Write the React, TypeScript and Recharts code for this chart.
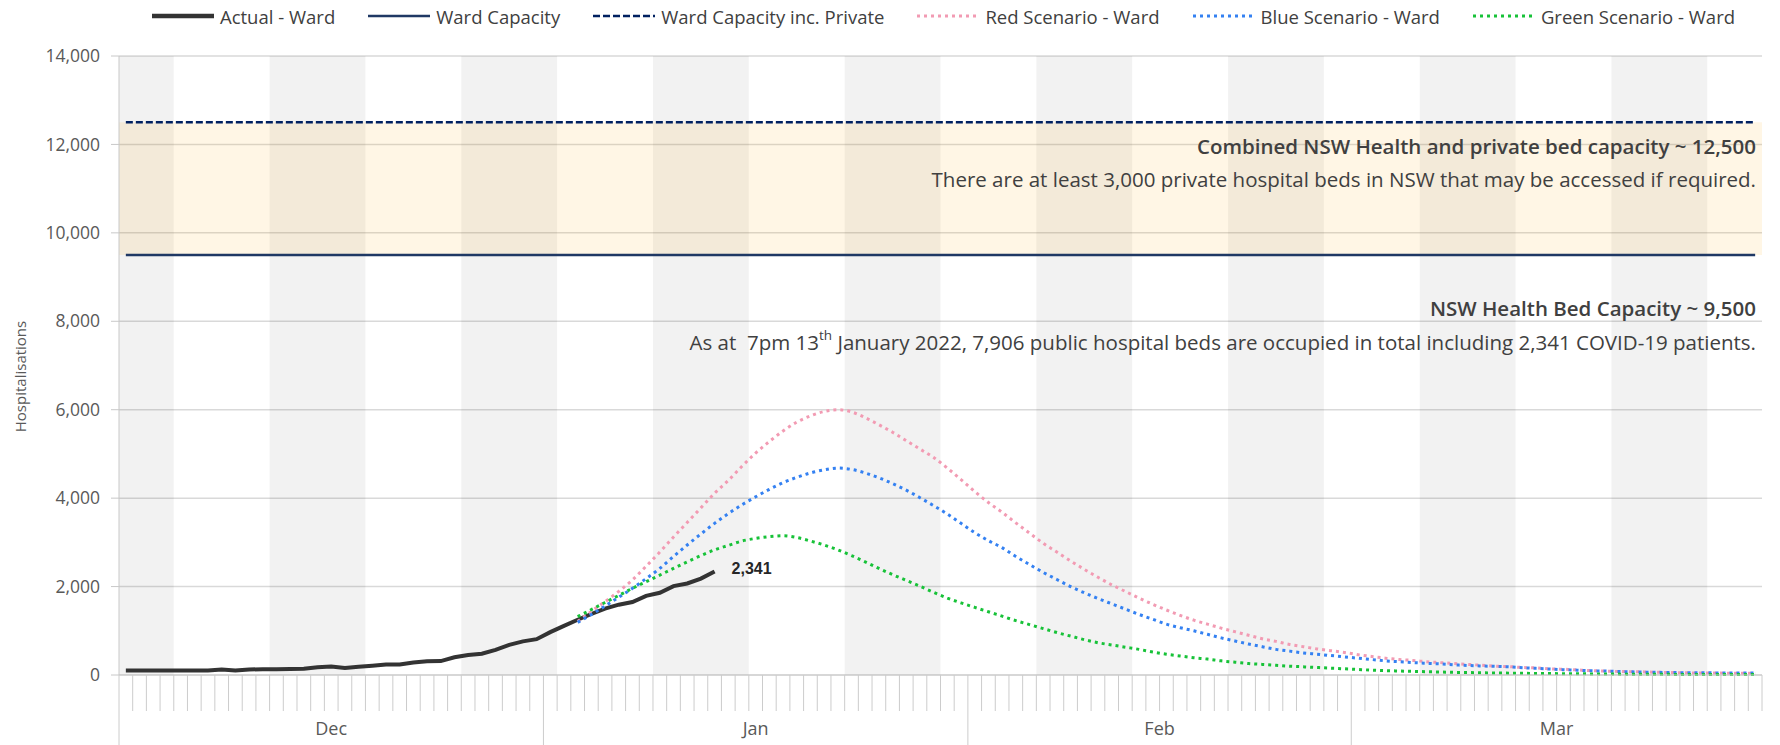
import React from "react";
import {
  ComposedChart,
  Line,
  XAxis,
  YAxis,
  CartesianGrid,
  ReferenceArea,
  Legend,
} from "recharts";

const FONT = "'Open Sans', 'Noto Sans', sans-serif";

const MONTHS = ["Dec", "Jan", "Feb", "Mar"];
const MONTH_LENGTHS = [31, 31, 28, 30];

// actual ward hospitalisations, 1 Dec 2021 - 13 Jan 2022 (one value per day)
const actualWard = [
  100, 100, 100, 100, 100, 100, 100, 125, 100, 125,
  130, 130, 135, 140, 175, 190, 160, 185, 210, 235,
  240, 285, 310, 315, 400, 450, 480, 570, 680, 760,
  810, 970, 1110, 1250, 1380, 1500, 1590, 1650, 1790, 1860,
  2010, 2070, 2180, 2341,
];

// modelled scenarios start on 2 Jan 2022 (day 33) and run to 30 Mar
const SCENARIO_START = 33;
const redScenario = [
  1210, 1440, 1660, 1890, 2150, 2460, 2780, 3120, 3450, 3780,
  4110, 4400, 4720, 5020, 5280, 5520, 5720, 5860, 5960, 6000,
  5950, 5820, 5660, 5490, 5300, 5110, 4920, 4680, 4420, 4150,
  3900, 3680, 3440, 3210, 2980, 2780, 2580, 2390, 2210, 2040,
  1890, 1740, 1600, 1470, 1350, 1240, 1150, 1060, 980, 900,
  820, 760, 690, 640, 590, 550, 510, 460, 420, 380,
  350, 330, 300, 280, 260, 240, 220, 200, 190, 170,
  160, 140, 130, 115, 100, 90, 80, 75, 70, 60,
  55, 50, 45, 45, 40, 40, 35,
];
const blueScenario = [
  1190, 1370, 1560, 1760, 1960, 2180, 2410, 2680, 2940, 3190,
  3430, 3650, 3850, 4030, 4200, 4350, 4470, 4570, 4640, 4680,
  4650, 4570, 4460, 4330, 4180, 4010, 3830, 3640, 3430, 3220,
  3040, 2880, 2680, 2500, 2320, 2160, 2000, 1860, 1730, 1610,
  1490, 1370, 1260, 1150, 1070, 1000, 920, 840, 770, 700,
  640, 580, 540, 500, 470, 440, 410, 380, 350, 320,
  300, 280, 265, 250, 230, 215, 205, 195, 185, 165,
  150, 135, 120, 110, 95, 90, 80, 72, 65, 60,
  55, 52, 50, 48, 45, 45, 45,
];
const greenScenario = [
  1320, 1480, 1640, 1800, 1960, 2110, 2260, 2410, 2560, 2700,
  2830, 2930, 3030, 3090, 3130, 3150, 3110, 3030, 2940, 2830,
  2700, 2560, 2410, 2270, 2140, 2010, 1870, 1740, 1630, 1530,
  1430, 1330, 1230, 1140, 1050, 960, 880, 800, 730, 680,
  630, 580, 520, 470, 430, 390, 360, 320, 290, 260,
  240, 220, 200, 185, 170, 155, 140, 125, 110, 100,
  90, 82, 75, 68, 60, 55, 50, 45, 42, 38,
  35, 32, 30, 28, 25, 22, 20, 18, 16, 15,
  14, 12, 12, 10, 10, 10, 10,
];

const WARD_CAPACITY = 9500;
const WARD_CAPACITY_PRIVATE = 12500;

// alternate weeks shaded grey: [first day, last day] as day index from 1 Dec
const greyWeeks = [
  [0, 3], [11, 17], [25, 31], [39, 45], [53, 59],
  [67, 73], [81, 87], [95, 101], [109, 115],
];

const Y_TICKS = [0, 2000, 4000, 6000, 8000, 10000, 12000, 14000];

const NOTE_PRIVATE_TITLE = "Combined NSW Health and private bed capacity ~ 12,500";
const NOTE_PRIVATE_TEXT =
  "There are at least 3,000 private hospital beds in NSW that may be accessed if required.";
const NOTE_PUBLIC_TITLE = "NSW Health Bed Capacity ~ 9,500";
const NOTE_PUBLIC_TEXT = [
  "As at  7pm 13",
  "th",
  " January 2022, 7,906 public hospital beds are occupied in total including 2,341 COVID-19 patients.",
];

const SERIES = [
  { key: "actual", name: "Actual - Ward", color: "#333333", width: 4, dash: undefined },
  { key: "wardCapacity", name: "Ward Capacity", color: "#1f3864", width: 2.5, dash: undefined },
  { key: "wardCapacityPrivate", name: "Ward Capacity inc. Private", color: "#002060", width: 2.5, dash: "7 3" },
  { key: "red", name: "Red Scenario - Ward", color: "#f29bb3", width: 3, dash: "3 4" },
  { key: "blue", name: "Blue Scenario - Ward", color: "#3481f2", width: 3, dash: "3 4" },
  { key: "green", name: "Green Scenario - Ward", color: "#17c238", width: 3, dash: "3 4" },
];

const totalDays = MONTH_LENGTHS.reduce((a, b) => a + b, 0);

const data = Array.from({ length: totalDays }, (_, day) => ({
  day,
  actual: day < actualWard.length ? actualWard[day] : null,
  wardCapacity: WARD_CAPACITY,
  wardCapacityPrivate: WARD_CAPACITY_PRIVATE,
  red: day >= SCENARIO_START ? redScenario[day - SCENARIO_START] : null,
  blue: day >= SCENARIO_START ? blueScenario[day - SCENARIO_START] : null,
  green: day >= SCENARIO_START ? greenScenario[day - SCENARIO_START] : null,
}));

// tick marks sit between days, month labels in the middle of each month
const dayEdges = Array.from({ length: totalDays + 1 }, (_, i) => i - 0.5);
const monthStarts = MONTH_LENGTHS.map((_, i) =>
  MONTH_LENGTHS.slice(0, i).reduce((a, b) => a + b, 0)
);
const monthEdges = monthStarts.map((s) => s - 0.5);
const monthMids = monthStarts.map((s, i) => s - 0.5 + MONTH_LENGTHS[i] / 2);

const DayTick = (props: any) => {
  const { x, y, payload } = props;
  const isMonth = monthEdges.includes(payload.value);
  return (
    <line
      x1={x}
      x2={x}
      y1={y}
      y2={y + (isMonth ? 75 : 36)}
      stroke="#cccccc"
      strokeWidth={1}
    />
  );
};

const YLabel = (props: any) => {
  const { x, y, height } = props.viewBox;
  const cx = x + 20;
  const cy = y + height / 2 + 11;
  return (
    <text
      x={cx}
      y={cy}
      transform={`rotate(-90 ${cx} ${cy})`}
      textAnchor="middle"
      dominantBaseline="central"
      fill="#595959"
      fontSize={15}
      fontFamily={FONT}
    >
      Hospitalisations
    </text>
  );
};

const CapacityNotes = (props: any) => {
  const { x, y, width, height } = props.viewBox;
  const right = x + width - 6;
  const bottom = y + height;
  const common = {
    x: right,
    textAnchor: "end" as const,
    dominantBaseline: "central" as const,
    fill: "#404040",
    fontSize: 20.5,
    fontFamily: FONT,
  };
  return (
    <g>
      <text {...common} y={y + 24} fontWeight={600}>
        {NOTE_PRIVATE_TITLE}
      </text>
      <text {...common} y={y + 57}>
        {NOTE_PRIVATE_TEXT}
      </text>
      <text {...common} y={bottom + 53} fontWeight={600}>
        {NOTE_PUBLIC_TITLE}
      </text>
      <text {...common} y={bottom + 87} style={{ whiteSpace: "pre" }}>
        {NOTE_PUBLIC_TEXT[0]}
        <tspan dy={-7} fontSize={13.5}>
          {NOTE_PUBLIC_TEXT[1]}
        </tspan>
        <tspan dy={7}>{NOTE_PUBLIC_TEXT[2]}</tspan>
      </text>
    </g>
  );
};

const ActualLabel = (props: any) => {
  const { x, y, index } = props;
  if (index !== actualWard.length - 1) return null;
  return (
    <text
      x={x + 17}
      y={y - 3}
      dominantBaseline="central"
      fill="#262626"
      fontSize={16}
      fontWeight={700}
      fontFamily="'Liberation Sans', Arial, sans-serif"
    >
      {actualWard[actualWard.length - 1].toLocaleString("en-US")}
    </text>
  );
};

const LegendContent = () => (
  <div
    style={{
      display: "flex",
      justifyContent: "center",
      alignItems: "center",
      height: 32,
      paddingLeft: 107,
      gap: 33,
      fontFamily: FONT,
      fontSize: 18.5,
      color: "#404040",
    }}
  >
    {SERIES.map((s) => (
      <div key={s.key} style={{ display: "flex", alignItems: "center", gap: 6 }}>
        <svg width={62} height={10}>
          <line
            x1={0}
            x2={62}
            y1={5}
            y2={5}
            stroke={s.color}
            strokeWidth={s.key === "actual" ? 4.5 : s.width}
            strokeDasharray={s.dash}
          />
        </svg>
        <span>{s.name}</span>
      </div>
    ))}
  </div>
);

export default function App() {
  return (
    <div style={{ position: "absolute", left: 0, top: 0, width: 1780, height: 745, background: "#fff" }}>
      <ComposedChart
        width={1780}
        height={745}
        data={data}
        margin={{ top: 24, right: 18, bottom: 0, left: 0 }}
      >
        <Legend
          verticalAlign="top"
          content={LegendContent}
          wrapperStyle={{ top: 0, left: 0, width: 1780 }}
        />
        <CartesianGrid xAxisId="day" vertical={false} stroke="#d9d9d9" strokeWidth={1.5} />
        <XAxis
          xAxisId="day"
          dataKey="day"
          type="number"
          domain={[-0.5, totalDays - 0.5]}
          ticks={dayEdges}
          interval={0}
          tick={DayTick}
          tickLine={false}
          tickSize={0}
          tickMargin={0}
          height={36}
          axisLine={{ stroke: "#cccccc" }}
        />
        <XAxis
          xAxisId="month"
          dataKey="day"
          type="number"
          domain={[-0.5, totalDays - 0.5]}
          ticks={monthMids}
          interval={0}
          tickFormatter={(v: number) => MONTHS[monthMids.indexOf(v)]}
          tick={{ fill: "#595959", fontSize: 18, fontFamily: FONT }}
          tickLine={false}
          axisLine={false}
          tickSize={0}
          tickMargin={11}
          height={34}
        />
        <YAxis
          domain={[0, 14000]}
          ticks={Y_TICKS}
          interval={0}
          width={119}
          tickSize={8}
          tickMargin={11}
          tickFormatter={(v: number) => v.toLocaleString("en-US")}
          tick={{ fill: "#595959", fontSize: 17.5, fontFamily: FONT }}
          tickLine={{ stroke: "#c8c8c8" }}
          axisLine={{ stroke: "#c8c8c8" }}
          label={YLabel}
        />
        {greyWeeks.map(([a, b]) => (
          <ReferenceArea
            key={a}
            xAxisId="day"
            x1={a - 0.5}
            x2={b + 0.5}
            fill="#000000"
            fillOpacity={0.05}
            stroke="none"
          />
        ))}
        <ReferenceArea
          xAxisId="day"
          y1={WARD_CAPACITY}
          y2={WARD_CAPACITY_PRIVATE}
          fill="#ffa500"
          fillOpacity={0.1}
          stroke="none"
          label={CapacityNotes}
        />
        {SERIES.map((s) => (
          <Line
            key={s.key}
            xAxisId="day"
            dataKey={s.key}
            name={s.name}
            type={s.key === "actual" ? "linear" : "monotone"}
            stroke={s.color}
            strokeWidth={s.width}
            strokeDasharray={s.dash}
            dot={false}
            activeDot={false}
            connectNulls={false}
            isAnimationActive={false}
            label={s.key === "actual" ? ActualLabel : undefined}
          />
        ))}
      </ComposedChart>
    </div>
  );
}
